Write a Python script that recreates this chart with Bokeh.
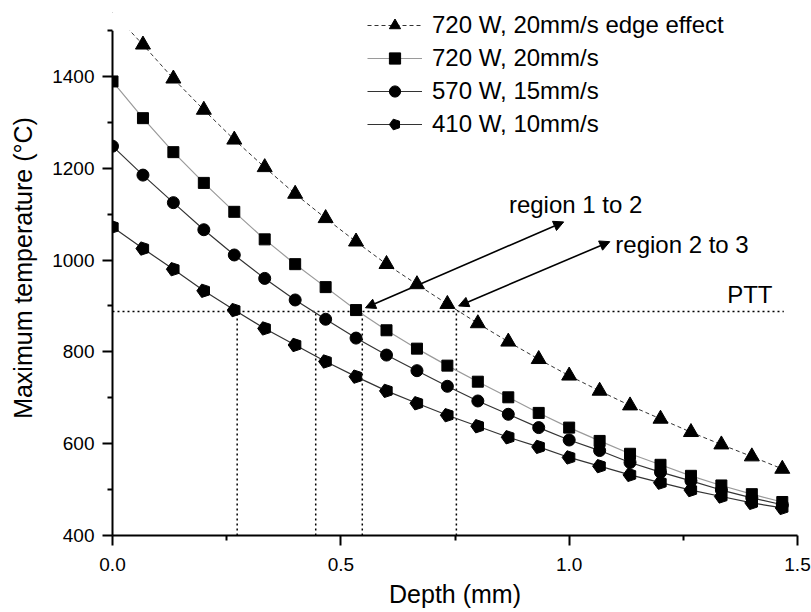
from bokeh.plotting import figure
from bokeh.models import (Range1d, FixedTicker, Legend, LegendItem, Arrow, NormalHead,
                          Label, BoxAnnotation, PrintfTickFormatter)
from bokeh.embed import file_html
from bokeh.resources import INLINE

# ---------------- data ----------------
depth = [0.0, 0.0667, 0.1333, 0.2, 0.2667, 0.3333, 0.4, 0.4667, 0.5333, 0.6, 0.6667, 0.7333,
         0.8, 0.8667, 0.9333, 1.0, 1.0667, 1.1333, 1.2, 1.2667, 1.3333, 1.4, 1.4667]

t_720_edge = [1540, 1469, 1395, 1327, 1262, 1202, 1144, 1091, 1040, 991, 947, 904,
              862, 822, 784, 748, 715, 683, 654, 625, 598, 572, 545]
t_720 = [1389, 1309, 1235, 1168, 1105, 1045, 991, 941, 891, 847, 807, 770,
         735, 701, 667, 635, 606, 578, 554, 530, 509, 490, 473]
t_570 = [1248, 1185, 1125, 1066, 1011, 960, 913, 871, 830, 793, 759, 725,
         693, 664, 635, 608, 585, 559, 538, 519, 499, 482, 467]
t_410 = [1072, 1025, 980, 933, 891, 851, 815, 779, 746, 715, 688, 662,
         638, 614, 593, 570, 551, 532, 515, 499, 485, 471, 460]

series_labels = ["720 W, 20mm/s edge effect", "720 W, 20mm/s", "570 W, 15mm/s", "410 W, 10mm/s"]

ptt = 888
ptt_x_end = 1.47
crossing_depths = [0.273, 0.445, 0.547, 0.753]

x_major = [0.0, 0.5, 1.0, 1.5]
x_minor = [0.25, 0.75, 1.25]
y_major = [400, 600, 800, 1000, 1200, 1400]
y_minor = [500, 700, 900, 1100, 1300, 1500]
y_axis_max = 1500

FONT = "Liberation Sans"

p = figure(width=811, height=612, output_backend="svg", toolbar_location=None,
           x_range=Range1d(0, 1.5), y_range=Range1d(400, 1565.3),
           min_border_left=112, min_border_right=14, min_border_top=0, min_border_bottom=77)
p.outline_line_color = None
p.xgrid.visible = False
p.ygrid.visible = False
p.background_fill_color = "white"

# axes
p.xaxis.ticker = FixedTicker(ticks=x_major, minor_ticks=x_minor)
p.yaxis.ticker = FixedTicker(ticks=y_major, minor_ticks=y_minor)
p.yaxis.bounds = (400, y_axis_max)
p.xaxis.formatter = PrintfTickFormatter(format="%.1f")
p.xaxis.axis_label = "Depth (mm)"
p.yaxis.axis_label = "Maximum temperature (°C)"
for ax in (p.xaxis, p.yaxis):
    ax.axis_line_width = 2
    ax.axis_line_color = "black"
    ax.major_tick_line_width = 2
    ax.minor_tick_line_width = 2
    ax.major_tick_line_color = "black"
    ax.minor_tick_line_color = "black"
    ax.major_tick_out = 10
    ax.major_tick_in = 0
    ax.minor_tick_out = 5
    ax.minor_tick_in = 0
    ax.major_label_text_font = FONT
    ax.major_label_text_font_size = "19px"
    ax.major_label_text_color = "black"
    ax.axis_label_text_font = FONT
    ax.axis_label_text_font_size = "25px"
    ax.axis_label_text_font_style = "normal"
    ax.axis_label_text_color = "black"
p.yaxis.major_label_standoff = 8
p.yaxis.axis_label_standoff = 12
p.xaxis.major_label_standoff = 12
p.xaxis.axis_label_standoff = 6

# PTT and crossing lines
p.line([0, ptt_x_end], [ptt, ptt], line_color="black", line_width=1.5, line_dash="2 3")
p.multi_line([[d, d] for d in crossing_depths], [[400, ptt] for _ in crossing_depths],
             line_color="black", line_width=1.5, line_dash="2 3")

# series (the first edge-effect point lies above the axis top; only its line segment shows)
l1 = p.line(depth, t_720_edge, line_color="#333333", line_width=1, line_dash="4 3")
m1 = p.scatter(depth[1:], t_720_edge[1:], marker="triangle", size=15,
               fill_color="black", line_color="black")
l2 = p.line(depth, t_720, line_color="#9a9a9a", line_width=1.2)
m2 = p.scatter(depth, t_720, marker="square", size=11, fill_color="black", line_color="black")
l3 = p.line(depth, t_570, line_color="#333333", line_width=1.2)
m3 = p.scatter(depth, t_570, marker="circle", size=12, fill_color="black", line_color="black")
l4 = p.line(depth, t_410, line_color="#333333", line_width=1.2)
try:
    m4 = p.ngon(depth, t_410, radius=7, radius_units="screen", n=5, angle=0.31416,
                fill_color="black", line_color="black")
except Exception:
    m4 = p.scatter(depth, t_410, marker="hex", size=13, fill_color="black", line_color="black")

# hide everything above the top of the y axis (values there are clipped in the original)
p.add_layout(BoxAnnotation(bottom=y_axis_max, fill_color="white", fill_alpha=1.0,
                           line_alpha=0))

legend = Legend(items=[
    LegendItem(label=series_labels[0], renderers=[l1, m1]),
    LegendItem(label=series_labels[1], renderers=[l2, m2]),
    LegendItem(label=series_labels[2], renderers=[l3, m3]),
    LegendItem(label=series_labels[3], renderers=[l4, m4]),
], location=(255, 397))
legend.level = "overlay"
legend.border_line_color = None
legend.background_fill_alpha = 0
legend.padding = 0
legend.margin = 0
legend.spacing = 5
legend.glyph_width = 55
legend.glyph_height = 28
legend.label_height = 28
legend.label_standoff = 10
legend.label_text_font = FONT
legend.label_text_font_size = "24px"
legend.label_text_color = "black"
p.add_layout(legend)

# arrows
for xs, ys, xe, ye in [(0.554, 896, 0.988, 1083), (0.758, 900, 1.089, 1040)]:
    p.add_layout(Arrow(start=NormalHead(size=10, fill_color="black", line_color="black"),
                       end=NormalHead(size=10, fill_color="black", line_color="black"),
                       x_start=xs, y_start=ys, x_end=xe, y_end=ye,
                       line_width=1.6, line_color="black"))

for tx, ty, txt in [(0.868, 1122, "region 1 to 2"), (1.101, 1033, "region 2 to 3"), (1.346, 925, "PTT")]:
    p.add_layout(Label(x=tx, y=ty, text=txt, text_baseline="middle", text_align="left",
                       text_font=FONT, text_font_size="24px", text_color="black"))

open("out.html", "w").write(file_html(p, INLINE))
